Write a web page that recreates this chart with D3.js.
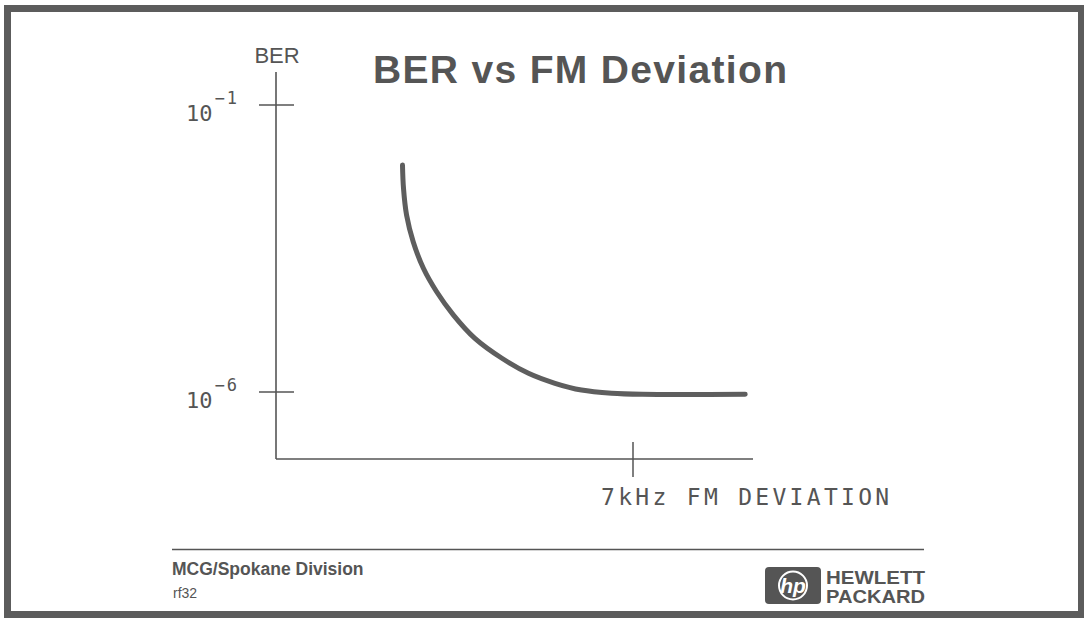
<!DOCTYPE html>
<html>
<head>
<meta charset="utf-8">
<script src="https://cdn.jsdelivr.net/npm/d3@7"></script>
<style>
  body { margin: 0; background: #fff; }
  svg { display: block; }
</style>
</head>
<body>
<div id="plot"></div>
<script>
// Data (x in kHz, BER)
const deviation = [2.48, 2.50, 2.56, 2.69, 2.89, 3.15, 3.48, 3.90, 4.43, 4.95, 5.47, 5.99, 6.58, 7.18, 9.2];
const ber = [9.0e-3, 3.54e-3, 1.21e-3, 4.15e-4, 1.43e-4, 5.58e-5, 2.19e-5, 8.6e-6, 3.87e-6, 2.12e-6, 1.42e-6, 1.08e-6, 0.95e-6, 0.91e-6, 0.91e-6];
const yTicks = [1e-1, 1e-6];
const yTickExp = ["\u22121", "\u22126"];
const xTicks = [7];

const ink = "#555";
const mono = "'DejaVu Sans Mono', monospace";
const sans = "'Liberation Sans', Arial, sans-serif";

const svg = d3.select("#plot")
    .append("svg")
    .attr("width", 1084)
    .attr("height", 618);

// Outer frame
svg.append("rect")
    .attr("x", 7.5).attr("y", 8.5)
    .attr("width", 1074).attr("height", 606)
    .attr("fill", "#fff")
    .attr("stroke", "#5c5c5c")
    .attr("stroke-width", 7);

const x = d3.scaleLinear().domain([0, 7]).range([276, 633]);
const y = d3.scaleLog().domain([1e-1, 1e-6]).range([105, 392]);

const xEnd = 753;
const yTop = 72;
const yBottom = 459;

// Axes
svg.append("line")
    .attr("x1", x(0)).attr("x2", x(0))
    .attr("y1", yTop).attr("y2", yBottom)
    .attr("stroke", ink).attr("stroke-width", 1.6);

svg.append("line")
    .attr("x1", x(0)).attr("x2", xEnd)
    .attr("y1", yBottom).attr("y2", yBottom)
    .attr("stroke", ink).attr("stroke-width", 1.6);

// Y ticks
svg.selectAll("line.ytick").data(yTicks).enter().append("line")
    .attr("class", "ytick")
    .attr("x1", x(0) - 17).attr("x2", x(0) + 18)
    .attr("y1", d => y(d)).attr("y2", d => y(d))
    .attr("stroke", ink).attr("stroke-width", 1.5);

const ylab = svg.selectAll("text.ylab").data(yTicks).enter().append("text")
    .attr("class", "ylab")
    .attr("x", 186)
    .attr("y", d => y(d) + 16)
    .attr("font-family", mono)
    .attr("font-size", 22)
    .attr("fill", ink);

ylab.append("tspan")
    .text("10");
ylab.append("tspan")
    .attr("font-size", 17)
    .attr("dx", 2)
    .attr("dy", -17)
    .attr("letter-spacing", 2)
    .text((d, i) => yTickExp[i]);

// X ticks
svg.selectAll("line.xtick").data(xTicks).enter().append("line")
    .attr("class", "xtick")
    .attr("x1", d => x(d)).attr("x2", d => x(d))
    .attr("y1", yBottom - 17).attr("y2", yBottom + 18)
    .attr("stroke", ink).attr("stroke-width", 1.5);

// Axis titles
svg.append("text")
    .attr("x", 277).attr("y", 63)
    .attr("text-anchor", "middle")
    .attr("font-family", sans)
    .attr("font-size", 22)
    .attr("fill", ink)
    .text("BER");

svg.append("text")
    .attr("x", 601).attr("y", 505)
    .attr("font-family", mono)
    .attr("font-size", 23)
    .attr("letter-spacing", 3.3)
    .attr("fill", ink)
    .text("7kHz FM DEVIATION");

// Title
svg.append("text")
    .attr("x", 373).attr("y", 83)
    .attr("font-family", sans)
    .attr("font-weight", "bold")
    .attr("font-size", 39)
    .attr("textLength", 414)
    .attr("lengthAdjust", "spacing")
    .attr("fill", ink)
    .text("BER vs FM Deviation");

// Curve
const pts = deviation.map((d, i) => [d, ber[i]]);
const line = d3.line()
    .x(d => x(d[0]))
    .y(d => y(d[1]))
    .curve(d3.curveCatmullRom.alpha(0.5));

svg.append("path")
    .datum(pts)
    .attr("d", line)
    .attr("fill", "none")
    .attr("stroke", "#5e5e5e")
    .attr("stroke-width", 5)
    .attr("stroke-linecap", "round");

// Footer
svg.append("line")
    .attr("x1", 172).attr("x2", 924)
    .attr("y1", 549.5).attr("y2", 549.5)
    .attr("stroke", ink).attr("stroke-width", 1.4);

svg.append("text")
    .attr("x", 172).attr("y", 575)
    .attr("font-family", sans)
    .attr("font-weight", "bold")
    .attr("font-size", 17.5)
    .attr("fill", ink)
    .text("MCG/Spokane Division");

svg.append("text")
    .attr("x", 173).attr("y", 598)
    .attr("font-family", sans)
    .attr("font-size", 14)
    .attr("fill", ink)
    .text("rf32");

// HP logo
const logo = svg.append("g");
logo.append("rect")
    .attr("x", 765).attr("y", 567)
    .attr("width", 56).attr("height", 37)
    .attr("rx", 4)
    .attr("fill", ink);
logo.append("circle")
    .attr("cx", 793).attr("cy", 585.5)
    .attr("r", 14)
    .attr("fill", "none")
    .attr("stroke", "#fff")
    .attr("stroke-width", 2);
logo.append("text")
    .attr("x", 793).attr("y", 593)
    .attr("text-anchor", "middle")
    .attr("font-family", sans)
    .attr("font-style", "italic")
    .attr("font-weight", "bold")
    .attr("font-size", 21)
    .attr("fill", "#fff")
    .text("hp");

logo.append("text")
    .attr("x", 826).attr("y", 584)
    .attr("font-family", sans)
    .attr("font-weight", "bold")
    .attr("font-size", 19)
    .attr("textLength", 99)
    .attr("lengthAdjust", "spacingAndGlyphs")
    .attr("fill", ink)
    .text("HEWLETT");

logo.append("text")
    .attr("x", 826).attr("y", 603)
    .attr("font-family", sans)
    .attr("font-weight", "bold")
    .attr("font-size", 19)
    .attr("textLength", 99)
    .attr("lengthAdjust", "spacingAndGlyphs")
    .attr("fill", ink)
    .text("PACKARD");
</script>
</body>
</html>
